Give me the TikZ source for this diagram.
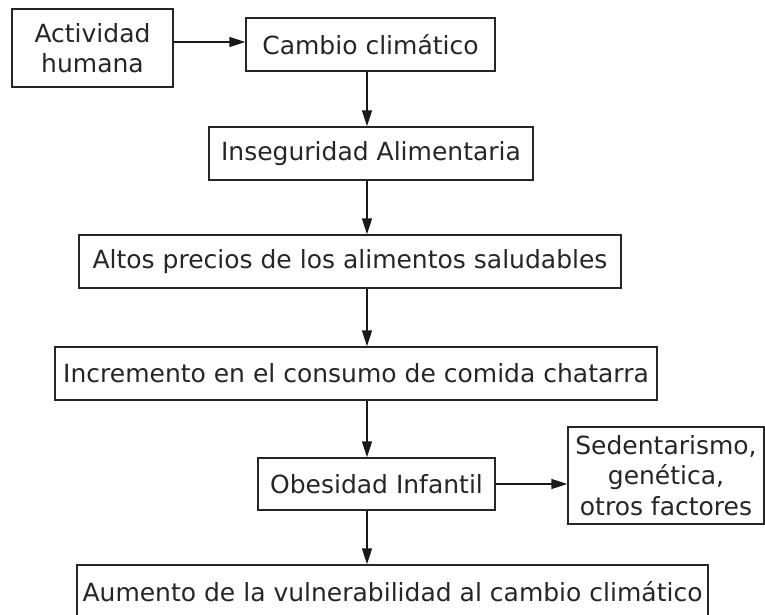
\documentclass[tikz,border=0pt]{standalone}
\usepackage{fontspec}
\setmainfont{DejaVu Sans}
\usetikzlibrary{arrows.meta}
\begin{document}
\begin{tikzpicture}[x=1pt,y=-1pt,
  box/.style={draw=black!85,line width=1.4pt,rectangle,inner sep=0pt,align=center,
    font=\fontsize{25}{30.5}\selectfont,text=black!85},
  arr/.style={line width=1.4pt,draw=black!90,-{Triangle[length=16pt,width=10pt]}}]
\useasboundingbox (0,0) rectangle (765,615);
\fill[white] (0,0) rectangle (765,615);
\node[box,minimum width=161pt,minimum height=78pt] (b1) at (92.5,48) {Actividad\\humana};
\node[box,minimum width=249pt,minimum height=53pt] (b2) at (370.5,44.5) {Cambio climático};
\node[box,minimum width=324pt,minimum height=53pt] (b3) at (371,153.5) {Inseguridad Alimentaria};
\node[box,minimum width=542pt,minimum height=53pt] (b4) at (350,261.5) {Altos precios de los alimentos saludables};
\node[box,minimum width=602pt,minimum height=53pt] (b5) at (356,373.5) {Incremento en el consumo de comida chatarra};
\node[box,minimum width=237pt,minimum height=52pt] (b6) at (376.5,484) {Obesidad Infantil};
\node[box,minimum width=196pt,minimum height=97pt] (b7) at (666,475.5) {Sedentarismo,\\genética,\\otros factores};
\node[box,minimum width=631pt,minimum height=53pt] (b8) at (392.5,591.5) {Aumento de la vulnerabilidad al cambio climático};
\coordinate (ax) at (367,0);
\coordinate (ay) at (0,42);
\draw[arr] (b1.east |- ay) -- (b2.west |- ay);
\draw[arr] (b2.south -| ax) -- (b3.north -| ax);
\draw[arr] (b3.south -| ax) -- (b4.north -| ax);
\draw[arr] (b4.south -| ax) -- (b5.north -| ax);
\draw[arr] (b5.south -| ax) -- (b6.north -| ax);
\draw[arr] (b6.south -| ax) -- (b8.north -| ax);
\draw[arr] (b6.east) -- (b6.east -| b7.west);
\end{tikzpicture}
\end{document}
